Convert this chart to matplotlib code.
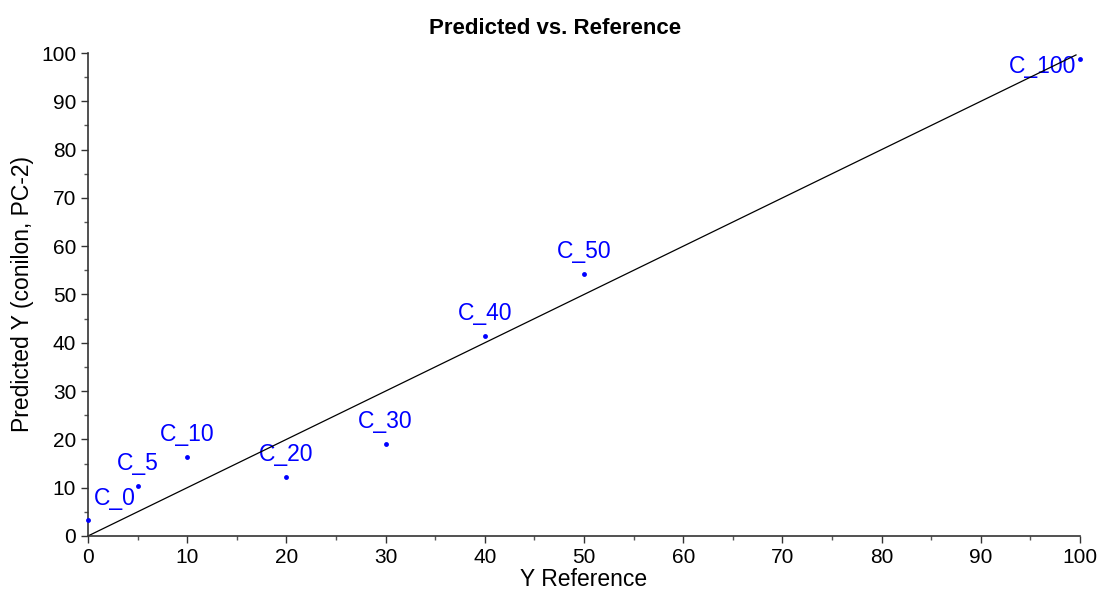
import matplotlib
matplotlib.use("Agg")
import matplotlib.pyplot as plt
from matplotlib.ticker import MultipleLocator

plt.rcParams['font.family'] = ['Liberation Sans', 'DejaVu Sans']

names = ["C_0", "C_5", "C_10", "C_20", "C_30", "C_40", "C_50", "C_100"]
reference = [0, 5, 10, 20, 30, 40, 50, 100]
predicted = [3.3, 10.4, 16.4, 12.2, 19.0, 41.4, 54.2, 98.8]
target_line = [0, 99.6]

fig = plt.figure(figsize=(11, 5.91), dpi=100)
ax = fig.add_axes([0.08, 0.0931, 0.9018, 0.8172])

ax.plot(target_line, target_line, color='black', lw=0.9, zorder=2)
ax.plot(reference, predicted, 'o', color='#0000ff', ms=3.5, mec='none', zorder=3, clip_on=False)

for n, x, y in zip(names, reference, predicted):
    if x == min(reference):
        dx, dy, ha = 4, 11, 'left'
    elif x == max(reference):
        dx, dy, ha = -3, -10, 'right'
    else:
        dx, dy, ha = 0, 11.5, 'center'
    ax.annotate(n, (x, y), xytext=(dx, dy), textcoords='offset points',
                ha=ha, va='baseline', color='#0000ff', fontsize=16.5, zorder=1)

ax.set_xlim(0, 100)
ax.set_ylim(0, 100)
ax.xaxis.set_major_locator(MultipleLocator(10))
ax.yaxis.set_major_locator(MultipleLocator(10))
ax.xaxis.set_minor_locator(MultipleLocator(5))
ax.yaxis.set_minor_locator(MultipleLocator(5))
for s in ['top', 'right']:
    ax.spines[s].set_visible(False)
for s in ['left', 'bottom']:
    ax.spines[s].set_linewidth(1.2)
    ax.spines[s].set_color('#333333')
ax.tick_params(which='major', direction='out', length=5, width=1, labelsize=15, colors='#333333', labelcolor='black')
ax.tick_params(which='minor', direction='out', length=3, width=1, colors='#555555')

ax.set_xlabel('Y Reference', fontsize=16.5, labelpad=1)
ax.set_ylabel('Predicted Y (conilon, PC-2)', fontsize=16.5, labelpad=5)
fig.text(0.505, 0.943, 'Predicted vs. Reference', fontsize=16, fontweight='bold',
         ha='center', va='baseline')

fig.savefig('out.png', dpi=100)
